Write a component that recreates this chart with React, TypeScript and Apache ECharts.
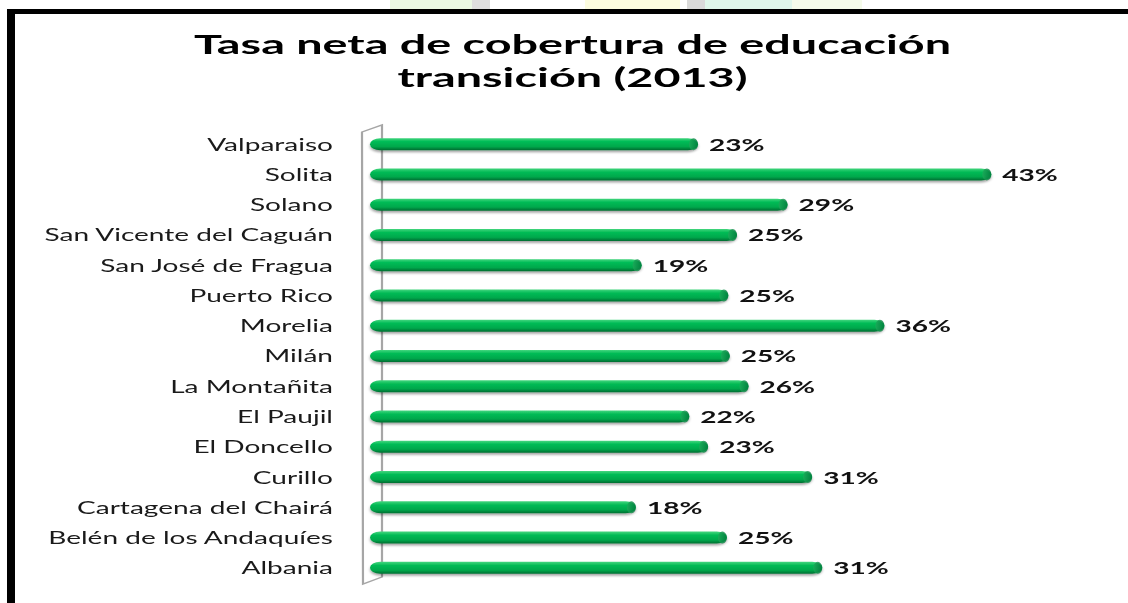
import React, { useEffect, useRef } from "react";
import * as echarts from "echarts";

const categories = [
  "Valparaiso",
  "Solita",
  "Solano",
  "San Vicente del Caguán",
  "San José de Fragua",
  "Puerto Rico",
  "Morelia",
  "Milán",
  "La Montañita",
  "El Paujil",
  "El Doncello",
  "Curillo",
  "Cartagena del Chairá",
  "Belén de los Andaquíes",
  "Albania",
];
const values = [22.7, 43.0, 28.9, 25.4, 18.8, 24.8, 35.6, 24.9, 26.2, 22.1, 23.4, 30.6, 18.4, 24.7, 31.3];
const titleLines = ["Tasa neta de cobertura de educación", "transición (2013)"];

const S = 1.7; // horizontal stretch of the original picture
const W = 1128 / S;
const H = 603;
const px = (x: number) => x / S;

export default function App() {
  const ref = useRef<HTMLDivElement>(null);
  useEffect(() => {
    if (!ref.current) return;
    const chart = echarts.init(ref.current, undefined, { renderer: "svg" });
    const font = "Lato, 'Open Sans', sans-serif";
    chart.setOption({
      animation: false,
      backgroundColor: "#ffffff",
      title: {
        text: titleLines.join("\n"),
        left: px(564),
        top: 22,
        textAlign: "center",
        textStyle: {
          fontFamily: font,
          fontSize: 27.5,
          fontWeight: "bold",
          lineHeight: 33,
          color: "#000000",
        },
      },
      grid: {
        left: px(370),
        top: 129,
        width: px(722.5),
        height: 454,
        containLabel: false,
      },
      xAxis: {
        type: "value",
        min: 0,
        max: 50,
        show: false,
        splitLine: { show: false },
      },
      yAxis: {
        type: "category",
        data: categories,
        inverse: true,
        axisLine: { show: false },
        axisTick: { show: false },
        axisLabel: {
          margin: px(37),
          fontFamily: font,
          fontSize: 16.5,
          color: "#1a1a1a",
        },
      },
      graphic: [
        { type: "rect", shape: { x: px(390), y: 0, width: px(85), height: 9 }, style: { fill: "#eaf8e3" }, z: 0 },
        { type: "rect", shape: { x: px(472), y: 0, width: px(18), height: 9 }, style: { fill: "#dedede" }, z: 0 },
        { type: "rect", shape: { x: px(585), y: 0, width: px(95), height: 9 }, style: { fill: "#fcfcdf" }, z: 0 },
        { type: "rect", shape: { x: px(687), y: 0, width: px(18), height: 9 }, style: { fill: "#dadada" }, z: 0 },
        { type: "rect", shape: { x: px(705), y: 0, width: px(87), height: 9 }, style: { fill: "#dff6ea" }, z: 0 },
        { type: "rect", shape: { x: px(792), y: 0, width: px(70), height: 9 }, style: { fill: "#f5fbea" }, z: 0 },
        { type: "rect", shape: { x: px(7), y: 9, width: W, height: 5 }, style: { fill: "#000000" }, z: 10 },
        { type: "rect", shape: { x: px(7), y: 9, width: px(8), height: H }, style: { fill: "#000000" }, z: 10 },
        {
          type: "polygon",
          shape: {
            points: [
              [px(362), 132],
              [px(382), 125],
              [px(382), 577],
              [px(363), 584],
            ],
          },
          style: { fill: "#ffffff", stroke: "#a6a6a6", lineWidth: 1.3 },
          z: 0,
        },
      ],
      series: [
        {
          type: "bar",
          data: values,
          barWidth: 12,
          z: 3,
          itemStyle: {
            borderRadius: 6,
            color: new echarts.graphic.LinearGradient(0, 0, 0, 1, [
              { offset: 0, color: "#45d67f" },
              { offset: 0.3, color: "#00bb55" },
              { offset: 0.7, color: "#00a84c" },
              { offset: 1, color: "#006d31" },
            ]),
            shadowColor: "rgba(0,0,0,0.35)",
            shadowBlur: 2,
            shadowOffsetY: 2,
          },
          label: {
            show: true,
            position: "right",
            distance: px(11),
            fontFamily: font,
            fontSize: 16.5,
            fontWeight: "bold",
            color: "#111111",
            formatter: (p: any) => Math.round(p.value) + "%",
          },
        },
        {
          type: "scatter",
          data: values,
          symbol: "circle",
          symbolSize: [px(9), 12],
          symbolOffset: [-px(4.5), 0],
          z: 4,
          silent: true,
          itemStyle: {
            color: new echarts.graphic.LinearGradient(0, 0, 1, 0, [
              { offset: 0, color: "#1fa85a" },
              { offset: 1, color: "#00773a" },
            ]),
          },
        },
      ],
    });
    return () => chart.dispose();
  }, []);
  return (
    <div
      ref={ref}
      style={{
        position: "fixed",
        left: 0,
        top: 0,
        width: W,
        height: H,
        transform: `scaleX(${S})`,
        transformOrigin: "0 0",
      }}
    />
  );
}
